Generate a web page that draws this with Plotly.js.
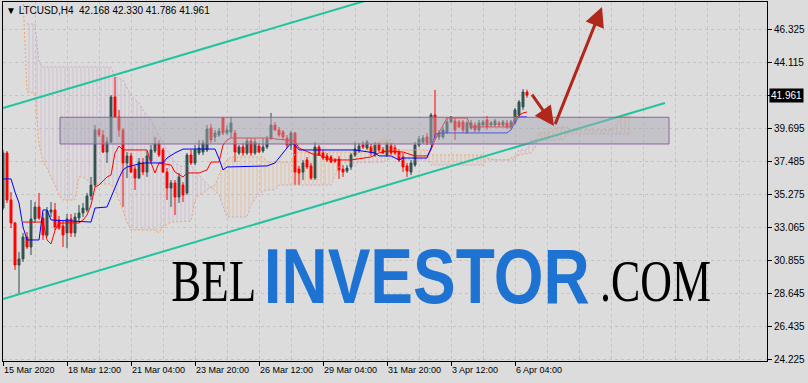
<!DOCTYPE html>
<html><head><meta charset="utf-8">
<script src="https://cdn.plot.ly/plotly-3.0.1.min.js"></script>
<style>html,body{margin:0;padding:0;background:#dcdcdc;}#chart{width:808px;height:383px;}</style>
</head><body><div id="chart"></div>
<script>
const symbolLabel = 'LTCUSD,H4';
const xTickBars = [0,16,32,48,64,80,96,112,128];
const xTickLabels = ['15 Mar 2020','18 Mar 12:00','21 Mar 04:00','23 Mar 20:00','26 Mar 12:00','29 Mar 04:00','31 Mar 20:00','3 Apr 12:00','6 Apr 04:00'];
const yTickValues = [24.225,26.435,28.645,30.855,33.065,35.275,37.485,39.695,41.905,44.115,46.325];
const yTickLabels = ['24.225','26.435','28.645','30.855','33.065','35.275','37.485','39.695','','44.115','46.325'];

const open = [34.40,38.09,34.94,33.40,30.58,30.99,32.46,31.79,33.67,34.47,
 33.73,32.59,34.13,34.27,33.60,33.20,32.73,33.67,32.73,33.73,
 34.07,34.27,35.21,35.94,39.63,39.29,38.15,38.82,41.84,40.50,
 39.63,37.42,37.89,37.01,36.41,37.42,36.81,37.55,38.22,38.69,
 38.29,36.81,35.74,36.08,35.14,35.94,35.41,37.95,37.42,38.09,
 38.15,38.29,39.76,39.16,39.29,40.43,39.43,39.49,39.43,38.09,
 38.49,38.09,38.89,38.09,38.55,38.22,38.49,39.09,39.96,39.63,
 39.49,39.09,38.62,39.43,37.01,36.81,37.62,37.22,36.41,38.49,
 38.09,37.89,37.82,37.62,37.68,37.01,36.88,37.15,37.95,38.22,
 38.62,38.42,38.49,37.95,38.62,38.29,37.95,38.55,38.42,38.15,
 37.82,37.22,36.81,37.28,38.62,38.82,39.16,38.76,40.63,39.16,
 39.16,39.49,40.16,40.23,40.16,40.16,39.49,39.76,39.96,39.63,
 39.96,40.30,39.96,39.96,40.10,39.96,40.10,39.83,40.10,40.63,
 41.17,42.168];
const high = [38.29,38.22,35.47,33.46,31.46,32.73,32.80,34.94,34.80,35.41,
 34.07,34.47,34.80,34.74,33.87,33.60,34.00,34.00,34.07,34.60,
 34.74,35.41,36.48,39.96,39.76,39.63,39.16,41.97,43.18,40.97,
 39.76,38.15,38.09,37.22,37.75,37.75,38.22,38.62,39.16,38.96,
 38.42,37.08,36.28,36.28,36.75,36.14,38.09,38.29,38.62,38.96,
 38.96,39.96,40.03,39.63,39.76,40.50,39.96,40.50,39.63,38.62,
 38.76,39.09,39.09,39.09,38.76,39.09,39.23,40.77,40.16,39.83,
 39.63,39.29,39.56,39.49,37.22,37.62,37.82,37.42,38.82,38.62,
 38.29,38.09,37.95,37.75,37.89,37.28,37.28,38.09,38.82,38.76,
 38.89,38.96,38.69,38.82,38.82,38.49,38.82,38.76,38.62,38.35,
 38.09,37.42,37.62,38.82,39.23,39.29,39.43,40.77,42.31,39.63,
 39.83,40.43,40.56,40.43,40.30,40.30,40.23,40.30,40.16,40.30,
 40.30,40.56,40.23,40.36,40.23,40.30,40.30,40.30,41.10,41.64,
 42.37,42.330];
const low = [34.27,34.74,33.06,30.25,28.64,30.79,31.66,31.25,33.40,33.60,
 32.26,32.46,33.80,32.93,32.93,31.79,31.72,32.46,32.46,33.46,
 33.80,34.13,34.94,35.81,39.16,38.09,37.42,38.76,40.43,39.16,
 34.47,36.41,36.75,35.61,36.35,36.61,36.48,37.42,38.09,37.82,
 36.75,34.94,34.47,33.93,34.74,34.80,35.27,37.28,37.28,37.95,
 37.95,38.15,38.76,38.82,39.16,39.29,39.29,39.09,37.48,37.95,
 37.89,37.95,37.89,37.95,38.09,38.09,38.35,38.96,39.56,39.16,
 38.96,38.42,38.29,35.94,35.94,36.28,37.01,36.28,36.28,37.89,
 37.62,37.48,37.42,37.42,36.35,36.48,36.75,36.95,37.82,38.09,
 38.35,38.29,37.89,37.82,38.15,38.02,37.82,37.95,37.95,37.48,
 36.81,36.48,36.61,37.15,38.49,38.69,38.62,38.62,38.96,38.96,
 39.02,39.36,40.10,38.96,39.76,39.43,39.36,39.63,39.49,39.49,
 39.83,39.63,39.83,39.83,39.83,39.83,39.69,39.69,39.96,40.50,
 40.97,41.786];
const close = [38.09,34.94,33.40,30.58,30.99,32.46,31.79,33.67,34.47,33.73,
 32.59,34.20,34.27,33.13,33.06,32.59,33.67,32.73,33.80,34.07,
 34.40,35.21,35.94,39.63,39.29,38.15,38.82,41.84,40.50,39.63,
 37.42,37.89,36.81,36.41,37.48,36.81,37.89,38.29,38.69,37.95,
 36.81,35.74,36.08,35.14,36.48,35.27,37.95,37.42,38.29,38.42,
 38.76,39.69,38.96,39.43,39.56,39.43,39.63,40.10,38.15,38.49,
 38.09,38.89,38.09,38.82,38.15,38.49,39.02,39.96,39.63,39.29,
 39.16,38.62,39.43,36.81,36.75,37.42,37.15,36.41,38.49,37.95,
 37.75,37.62,37.48,37.55,36.95,36.81,37.08,37.95,38.35,38.55,
 38.49,38.82,38.09,38.62,38.29,38.09,38.62,38.09,38.09,37.62,
 37.15,36.88,37.42,38.62,39.02,39.09,38.76,40.63,39.09,39.43,
 39.63,40.16,40.50,39.63,39.83,39.63,40.10,40.10,39.63,40.10,
 40.16,39.83,40.10,40.23,39.96,40.16,39.83,40.16,40.97,41.50,
 42.17,41.961];

const tenkanBar = [5,10,11,12,13,14,19,20,21,22,23,24,26,27,28,29,30,36,37,38,39,42,43,45,46,49,51,52,54,55,56,57,66,72,73,74,78,79,82,87,91,92,94,96,100,103,106,107,108,109,111,116,117,127,128,130,131];
const tenkanVal = [33.46,33.46,32.26,31.99,32.90,33.40,33.40,33.60,33.93,34.60,35.81,35.94,36.48,36.61,38.09,38.55,38.29,38.29,37.42,36.75,37.42,37.28,36.81,36.48,36.75,36.75,36.95,37.48,37.48,38.62,38.96,39.09,39.09,38.96,38.89,38.42,37.95,37.95,37.62,37.62,37.75,37.82,38.09,38.22,38.15,37.89,37.89,38.29,38.96,39.43,40.43,40.43,39.83,39.83,40.43,40.77,40.83];

const kijunBar = [0,2,3,4,5,6,9,10,11,12,22,23,26,27,28,29,30,31,35,40,41,43,45,53,54,55,56,66,68,69,70,72,73,74,88,93,94,97,99,100,106,107,108,109,126,127,128,129,131];
const kijunVal = [36.35,36.35,35.47,34.74,33.13,32.26,32.26,34.27,34.27,33.60,33.46,34.40,34.47,35.14,35.81,36.41,36.95,37.15,37.42,37.42,37.75,38.09,38.35,38.35,37.70,36.95,37.15,37.22,37.42,37.75,38.15,38.76,38.62,38.29,38.29,38.09,37.89,37.89,37.62,37.75,37.75,38.42,39.29,39.43,39.43,39.63,40.16,40.50,40.50];

const spanABar = [5,6,8,9,10,11,12,13,14,15,18,19,20,21,22,27,28,29,30,31,32,38,39,40,41,42,47,48,49,50,51,52,53,54,55,56,57,65,66,72,73,74,90,91,93,95,97,98,106,107,120,121,123,126,127,129,132,133,134,137,138,141,142,152,153,154,155,157];
const spanAVal = [48.60,42.17,42.10,38.69,37.48,37.08,36.48,35.94,35.27,34.94,34.94,36.48,36.48,36.28,36.01,36.01,35.61,34.94,34.27,33.46,32.93,32.93,32.73,33.13,33.27,33.46,33.53,34.94,35.27,35.41,35.61,35.81,35.94,36.61,37.28,37.62,37.82,37.82,37.48,37.48,38.02,38.15,38.15,38.29,38.62,38.96,38.96,38.29,38.29,37.95,37.95,37.75,37.62,37.62,37.75,37.95,38.08,38.42,39.43,39.49,39.76,39.83,39.63,39.63,39.89,40.30,40.57,40.57];

const spanBBar = [6,8,9,10,27,28,30,31,32,33,34,35,37,39,41,43,44,47,48,50,52,54,56,61,62,64,66,68,69,82,84,85,95,96,99,100,106,107,120,121,128,129,131,132,133,140,141,157];
const spanBVal = [46.73,46.73,44.18,43.85,43.85,43.18,42.98,42.44,41.97,41.64,41.44,40.97,40.30,39.29,38.29,37.48,37.22,37.22,36.95,36.28,35.74,35.27,33.80,33.80,34.60,35.41,35.61,35.61,35.94,35.94,37.15,37.42,37.48,37.62,37.95,37.62,37.62,37.28,37.28,37.62,37.62,38.29,38.29,38.96,38.96,38.96,39.36,39.36];

const channelUpperBar = [0,95];
const channelUpperVal = [41.10,48.63];
const channelLowerBar = [0,165.5];
const channelLowerVal = [28.31,41.44];

const kumoSegments = [[6,52],[52,121],[121,133],[133,157]];

const bars = open.map((_, i) => i);
const last = open.length - 1;

function slice(bx, vals, lo, hi) {
  const xs = [], ys = [];
  bx.forEach((b, i) => { if (b >= lo && b <= hi) { xs.push(b); ys.push(vals[i]); } });
  return {xs, ys};
}
const mean = a => a.reduce((s, v) => s + v, 0) / a.length;

const data = [];
kumoSegments.forEach(([lo, hi]) => {
  const a = slice(spanABar, spanAVal, lo, hi);
  const b = slice(spanBBar, spanBVal, lo, hi);
  const bearish = mean(b.ys) > mean(a.ys);
  data.push({type:'scatter', x:a.xs, y:a.ys, mode:'lines', line:{width:0}, hoverinfo:'skip', showlegend:false});
  data.push({type:'scatter', x:b.xs, y:b.ys, mode:'lines', line:{width:0}, fill:'tonexty',
    fillcolor:'rgba(0,0,0,0)',
    fillpattern:{shape:'|', fgcolor: bearish ? 'rgba(200,160,200,0.5)' : 'rgba(240,160,95,0.5)', bgcolor:'rgba(0,0,0,0)', size:4, solidity:0.25},
    hoverinfo:'skip', showlegend:false});
});
data.push({type:'scatter', x:spanABar, y:spanAVal, mode:'lines', line:{color:'#F4A460', width:1, dash:'2px,2px'}, hoverinfo:'skip', showlegend:false});
data.push({type:'scatter', x:spanBBar, y:spanBVal, mode:'lines', line:{color:'#CCA6CC', width:1, dash:'2px,2px'}, hoverinfo:'skip', showlegend:false});
data.push({type:'candlestick', x:bars, open:open, high:high, low:low, close:close,
  increasing:{line:{color:'#2F4F4F', width:1}, fillcolor:'#2F5A50'},
  decreasing:{line:{color:'#FF0000', width:1}, fillcolor:'#FF0000'},
  whiskerwidth:0, hoverinfo:'skip', showlegend:false});
data.push({type:'scatter', x:tenkanBar, y:tenkanVal, mode:'lines', line:{color:'#FF0000', width:1}, hoverinfo:'skip', showlegend:false});
data.push({type:'scatter', x:kijunBar, y:kijunVal, mode:'lines', line:{color:'#0000FF', width:1}, hoverinfo:'skip', showlegend:false});
data.push({type:'scatter', x:channelUpperBar, y:channelUpperVal, mode:'lines', line:{color:'#22C3A0', width:2}, hoverinfo:'skip', showlegend:false});
data.push({type:'scatter', x:channelLowerBar, y:channelLowerVal, mode:'lines', line:{color:'#22C3A0', width:2}, hoverinfo:'skip', showlegend:false});

const minorBars = [];
for (let b = 0; b <= 191; b += 8) minorBars.push(b);

const arrowStyle = {xref:'x', yref:'y', axref:'x', ayref:'y', showarrow:true, arrowhead:2, arrowsize:1.3, arrowwidth:3, arrowcolor:'#B0281C', text:'', standoff:0, startstandoff:0};

const layout = {
  width:808, height:383,
  margin:{l:3, r:41, t:2, b:22},
  paper_bgcolor:'#dcdcdc', plot_bgcolor:'#dcdcdc',
  showlegend:false,
  font:{family:'Liberation Sans, Arial, sans-serif', size:10, color:'#000'},
  xaxis:{range:[0,191], showline:true, mirror:true, linecolor:'#000', linewidth:1,
    tickmode:'array', tickvals:xTickBars, ticktext:xTickLabels, ticks:'outside', ticklen:4, tickcolor:'#000',
    ticklabelposition:'outside right', tickangle:0, tickfont:{size:9},
    showgrid:true, gridcolor:'#c4c4c4', griddash:'3px,3px', gridwidth:1,
    minor:{tickmode:'array', tickvals:minorBars, showgrid:true, gridcolor:'#c4c4c4', griddash:'3px,3px', ticklen:0},
    zeroline:false, rangeslider:{visible:false}, fixedrange:true},
  yaxis:{range:[24.154,48.20], side:'right', showline:true, mirror:true, linecolor:'#000', linewidth:1,
    tickmode:'array', tickvals:yTickValues, ticktext:yTickLabels, ticks:'outside', ticklen:4, tickcolor:'#000',
    tickfont:{size:10},
    showgrid:true, gridcolor:'#c4c4c4', griddash:'3px,3px', zeroline:false, fixedrange:true},
  shapes:[
    {type:'rect', xref:'x', yref:'y', x0:14.25, x1:166.5, y0:38.69, y1:40.48, layer:'above',
     fillcolor:'rgba(170,170,182,0.5)', line:{color:'#8C64A0', width:1}}
  ],
  annotations:[
    {xref:'paper', yref:'paper', x:0, y:1, xanchor:'left', yanchor:'top', xshift:1, yshift:-1, showarrow:false,
     text:'▼ ' + symbolLabel + '  ' + [open[last], high[last], low[last], close[last]].map(v => v.toFixed(3)).join(' '),
     font:{size:10, color:'#000'}},
    {xref:'paper', yref:'y', x:1, y:close[last], xanchor:'left', yanchor:'middle', xshift:2, showarrow:false,
     text:close[last].toFixed(3), bgcolor:'#000', borderpad:1, font:{size:10, color:'#fff'}},
    Object.assign({x:137.75, y:39.89, ax:132, ay:42.10}, arrowStyle),
    Object.assign({x:149.75, y:47.87, ax:137.9, ay:39.92}, arrowStyle),
    {xref:'paper', yref:'paper', x:(213.5-3)/764, y:(361-302)/359, xanchor:'center', yanchor:'bottom', yshift:-14, showarrow:false,
     text:'BEL', font:{family:'Liberation Serif, Times New Roman, serif', size:59, color:'#000'}},
    {xref:'paper', yref:'paper', x:(426.5-3)/764, y:(361-303)/359, xanchor:'center', yanchor:'bottom', yshift:-19, showarrow:false,
     text:'<b>INVESTOR</b>', font:{family:'Liberation Sans, Arial, sans-serif', size:78, color:'#1E73D2'}},
    {xref:'paper', yref:'paper', x:(655-3)/764, y:(361-302)/359, xanchor:'center', yanchor:'bottom', yshift:-14, showarrow:false,
     text:'.COM', font:{family:'Liberation Serif, Times New Roman, serif', size:59, color:'#000'}}
  ]
};

// horizontal compression of the watermark words (target widths in px)
const squeeze = {4:85, 5:326, 6:111};
Plotly.newPlot('chart', data, layout, {staticPlot:true, displayModeBar:false}).then(gd => {
  Object.keys(squeeze).forEach(k => {
    const ann = gd.querySelector('.annotation[data-index="' + k + '"]');
    if (!ann) return;
    const t = ann.querySelector('.annotation-text');
    const bg = ann.querySelector('rect.bg');
    const w = t.getComputedTextLength();
    const s = squeeze[k] / w;
    const cx = parseFloat(t.getAttribute('x')) || 0;
    t.setAttribute('transform', 'translate(' + cx + ',0) scale(' + s + ',1) translate(' + (-cx) + ',0)');
    if (bg) {
      const bw = parseFloat(bg.getAttribute('width'));
      const bx = parseFloat(bg.getAttribute('x')) || 0;
      const nbw = bw * s;
      bg.setAttribute('x', bx + (bw - nbw) / 2);
      bg.setAttribute('width', nbw);
    }
  });
});
</script></body></html>
